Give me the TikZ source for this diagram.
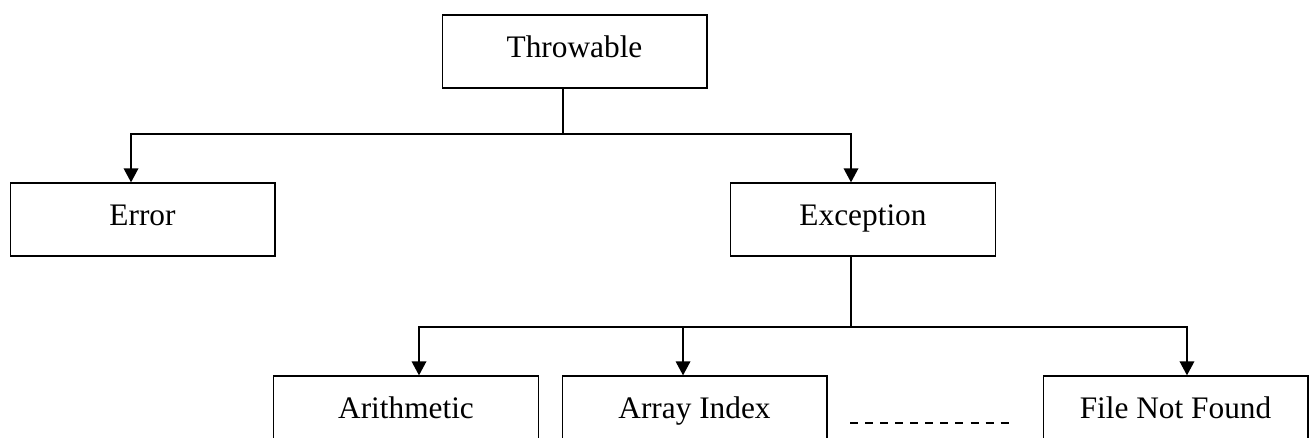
\documentclass[tikz,border=0pt]{standalone}
\usepackage{fontspec}
\setmainfont{Liberation Serif}
\usetikzlibrary{arrows.meta}
\begin{document}
\begin{tikzpicture}[x=0.75pt,y=-0.75pt,
  box/.style={draw,line width=1pt,minimum width=198.5pt,minimum height=54.75pt,inner sep=0pt,
    font=\fontsize{23.5}{28}\selectfont,text height=16pt,text depth=7.4pt},
  conn/.style={line width=1pt},
  arr/.style={conn,-{Triangle[length=10.5pt,width=11pt]}},
  dots/.style={line width=0.8pt,dash pattern=on 6pt off 5.3pt}]
\clip (0,0) rectangle (1309,437);
\node[box] (throw) at (574.5,51.5) {Throwable};
\node[box] (error) at (142.5,219.5) {Error};
\node[box] (exc) at (863,219.5) {Exception};
\node[box] (arith) at (406,412.5) {Arithmetic};
\node[box] (array) at (694.5,412.5) {Array Index};
\node[box] (file) at (1175.5,412.5) {File Not Found};
\coordinate (t1) at (563,134);
\coordinate (e1) at (851,327);
\draw[conn] (throw.south -| t1) -- (t1);
\draw[arr] (t1) -| ([xshift=-8.6pt]error.north);
\draw[arr] (t1) -| ([xshift=-9pt]exc.north);
\draw[conn] (exc.south -| e1) -- (e1);
\draw[arr] (e1) -| ([xshift=9.75pt]arith.north);
\draw[arr] (e1) -| ([xshift=-8.6pt]array.north);
\draw[arr] (e1) -| ([xshift=8.6pt]file.north);
\coordinate (d1) at (850,423);
\coordinate (d2) at (1012,423);
\draw[dots] (d1) -- (d2);
\end{tikzpicture}
\end{document}
